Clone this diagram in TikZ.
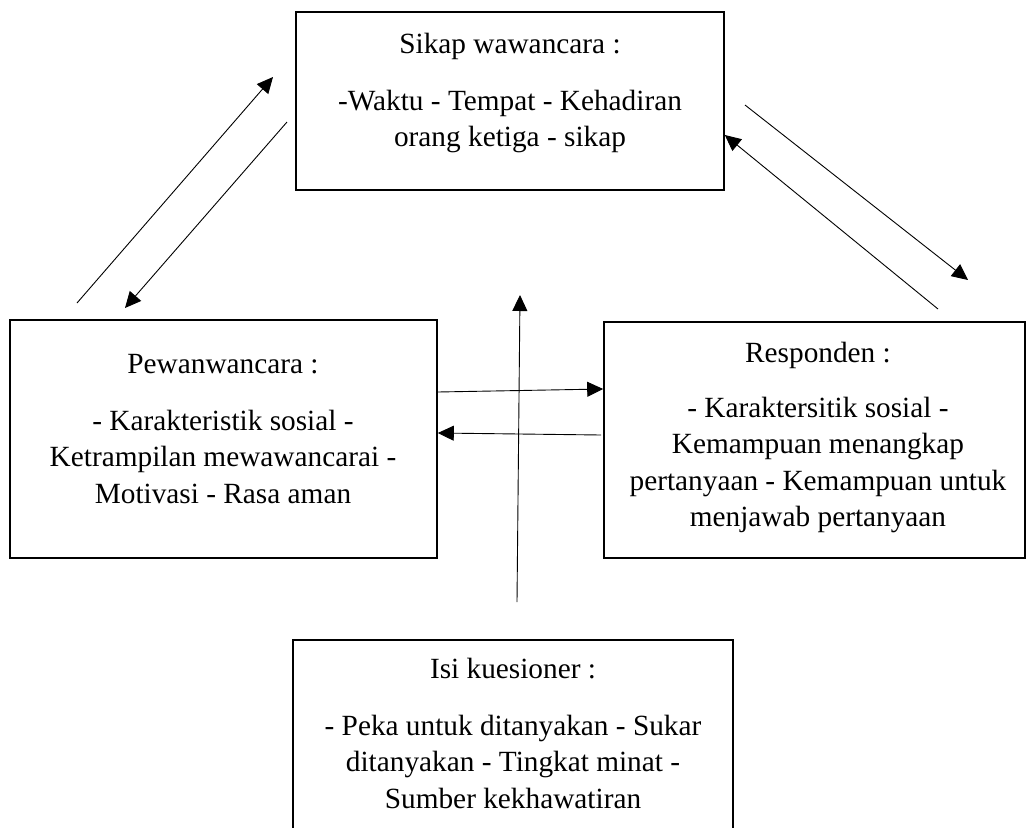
\documentclass[tikz,border=0pt]{standalone}
\usepackage{fontspec}
\setmainfont{Liberation Serif}
\usetikzlibrary{arrows.meta}
\begin{document}
\begin{tikzpicture}[x=1pt,y=-1pt,
  box/.style={draw,line width=1.6pt,inner sep=0pt},
  txt/.style={anchor=base,inner sep=0pt,align=flush center,text width=425pt,font=\fontsize{29.3}{36.5}\selectfont},
  arr/.style={line width=0.9pt,-{Triangle[length=16pt,width=15pt]}}]
\clip (0,0) rectangle (1029,828);
% boxes
\node[box,minimum width=428pt,minimum height=178pt] (sikap) at (510,101) {};
\node[box,minimum width=427pt,minimum height=238pt] (pew) at (223.5,439) {};
\node[box,minimum width=421pt,minimum height=236pt] (resp) at (814.5,440) {};
\node[box,minimum width=440pt,minimum height=260pt] (isi) at (513,770) {};
% texts
\node[txt] (tsikap) at (510,53) {Sikap wawancara :\\[20.5pt]-Waktu - Tempat - Kehadiran\\orang ketiga - sikap};
\node[txt] (tpew) at (223,373) {Pewanwancara :\\[20.5pt]- Karakteristik sosial -\\Ketrampilan mewawancarai -\\Motivasi - Rasa aman};
\node[txt] (tresp) at (818,362) {Responden :\\[18.5pt]- Karaktersitik sosial -\\Kemampuan menangkap\\pertanyaan - Kemampuan untuk\\menjawab pertanyaan};
\node[txt] (tisi) at (513,678) {Isi kuesioner :\\[20.5pt]- Peka untuk ditanyakan - Sukar\\ditanyakan - Tingkat minat -\\Sumber kekhawatiran};
% free arrow ends
\coordinate (a1s) at (77,303);
\coordinate (a1e) at (273,77);
\coordinate (a2s) at (287,122);
\coordinate (a2e) at (125,308);
\coordinate (a3s) at (745,105);
\coordinate (a3e) at (968,280);
\coordinate (a4s) at (938,309);
\coordinate (vs) at (517,602);
\coordinate (ve) at (520,295);
\coordinate (h2s) at (601,435);
% arrows
\draw[arr] (a1s) -- (a1e);
\draw[arr] (a2s) -- (a2e);
\draw[arr] (a3s) -- (a3e);
\draw[arr] (a4s) -- (sikap.east |- 0,135);
\draw[arr] (vs) -- (ve);
\draw[arr] (pew.east |- 0,392) -- (resp.west |- 0,389);
\draw[arr] (h2s) -- (pew.east |- 0,433);
\end{tikzpicture}
\end{document}
